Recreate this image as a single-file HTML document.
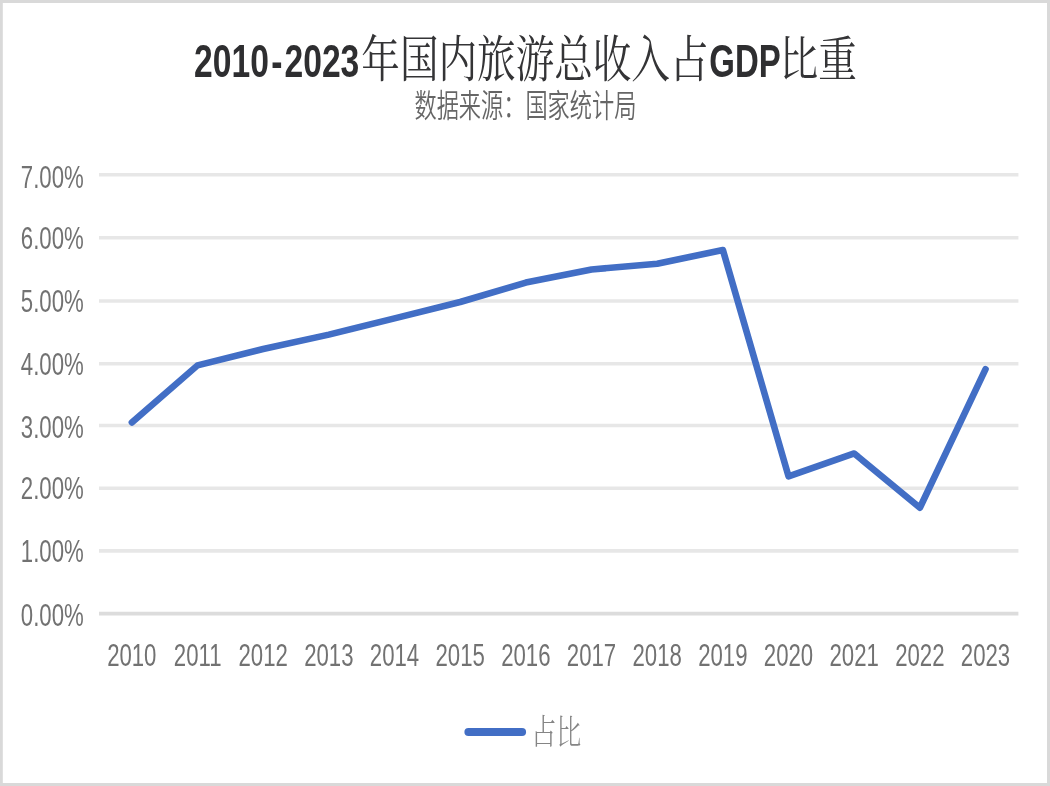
<!DOCTYPE html>
<html lang="zh-CN">
<head>
<meta charset="utf-8">
<title>2010-2023年国内旅游总收入占GDP比重</title>
<style>
html,body{margin:0;padding:0;background:#fff;}
body{width:1050px;height:786px;overflow:hidden;font-family:"Liberation Sans", "Noto Sans CJK SC", sans-serif;}
.chart{position:relative;width:1050px;height:786px;background:#fff;}
svg{position:absolute;left:0;top:0;display:block;}
.soft{filter:blur(0.45px);}
svg{overflow:hidden;}
text{white-space:pre;}
.tb{font-family:"Liberation Sans", "Noto Sans CJK SC", sans-serif;font-weight:bold;font-size:38px;fill:#2e2e30;}
.ts{font-family:"Liberation Serif", "Noto Serif CJK SC", serif;font-weight:normal;font-size:38px;fill:#343436;}
.sb{font-family:"Liberation Sans", "Noto Sans CJK SC", sans-serif;font-weight:350;font-size:22px;fill:#666666;}
.ax{font-family:"Liberation Sans", "Noto Sans CJK SC", sans-serif;font-weight:normal;font-size:22px;fill:#727272;}
.lg{font-family:"Liberation Serif", "Noto Serif CJK SC", serif;font-weight:300;font-size:23px;fill:#858585;}
</style>
</head>
<body>
<div class="chart">
<svg width="1050" height="786" viewBox="0 0 1050 786">
<g class="soft" fill="#d9d9d9"><rect x="-10" y="-10" width="1070" height="13"/><rect x="-10" y="783" width="1070" height="13"/><rect x="-10" y="-10" width="12.8" height="806"/><rect x="1047" y="-10" width="13" height="806"/></g>
<g class="soft">
<g stroke="#e7e7e7" stroke-width="3.6" fill="none"><line x1="99.0" x2="1018.4" y1="550.90" y2="550.90"/><line x1="99.0" x2="1018.4" y1="488.20" y2="488.20"/><line x1="99.0" x2="1018.4" y1="425.50" y2="425.50"/><line x1="99.0" x2="1018.4" y1="363.70" y2="363.70"/><line x1="99.0" x2="1018.4" y1="301.00" y2="301.00"/><line x1="99.0" x2="1018.4" y1="237.80" y2="237.80"/><line x1="99.0" x2="1018.4" y1="174.70" y2="174.70"/></g>
<line x1="99.0" x2="1018.4" y1="613.7" y2="613.7" stroke="#dcdcdc" stroke-width="3.8"/>
<polyline points="131.84,422.43 197.51,365.37 263.18,349.06 328.85,334.64 394.52,318.34 460.19,302.03 525.86,282.59 591.54,269.42 657.21,263.78 722.88,249.98 788.55,476.37 854.22,453.48 919.89,507.72 985.56,369.13" fill="none" stroke="#426ec5" stroke-width="6.6" stroke-linejoin="round" stroke-linecap="round"/>
<line x1="468.5" x2="522" y1="732" y2="732" stroke="#426ec5" stroke-width="8.2" stroke-linecap="round"/>
<g>
<text class="tb" transform="translate(194.12 77.10) scale(0.8848 1.2037)">2010<tspan dx="2.6">-</tspan><tspan dx="2.4">2023</tspan></text><text class="ts" transform="translate(361.37 77.36) scale(1.0151 1.3111)">年国内旅游总收入占</text><text class="tb" transform="translate(709.27 76.80) scale(0.8671 1.1963)">GDP</text><text class="ts" transform="translate(779.51 76.15) scale(1.0188 1.2514)">比重</text>
<text class="sb" transform="translate(414.49 117.14) scale(1.0092 1.4286)">数据来源：国家统计局</text>
<text class="ax" transform="translate(20.79 625.70) scale(1.0100 1.4467)">0.00%</text>
<text class="ax" transform="translate(20.79 562.10) scale(1.0100 1.4467)">1.00%</text>
<text class="ax" transform="translate(20.79 499.40) scale(1.0100 1.4467)">2.00%</text>
<text class="ax" transform="translate(20.79 437.70) scale(1.0100 1.4467)">3.00%</text>
<text class="ax" transform="translate(20.79 375.00) scale(1.0100 1.4467)">4.00%</text>
<text class="ax" transform="translate(20.79 312.10) scale(1.0100 1.4467)">5.00%</text>
<text class="ax" transform="translate(20.79 248.80) scale(1.0100 1.4467)">6.00%</text>
<text class="ax" transform="translate(20.79 187.70) scale(1.0100 1.4467)">7.00%</text>
<text class="ax" transform="translate(107.13 665.80) scale(1.0085 1.4533)">2010</text>
<text class="ax" transform="translate(173.81 665.80) scale(1.0085 1.4533)">2011</text>
<text class="ax" transform="translate(238.47 665.80) scale(1.0085 1.4533)">2012</text>
<text class="ax" transform="translate(304.14 665.80) scale(1.0085 1.4533)">2013</text>
<text class="ax" transform="translate(369.81 665.80) scale(1.0085 1.4533)">2014</text>
<text class="ax" transform="translate(435.48 665.80) scale(1.0085 1.4533)">2015</text>
<text class="ax" transform="translate(501.16 665.80) scale(1.0085 1.4533)">2016</text>
<text class="ax" transform="translate(566.83 665.80) scale(1.0085 1.4533)">2017</text>
<text class="ax" transform="translate(632.50 665.80) scale(1.0085 1.4533)">2018</text>
<text class="ax" transform="translate(698.17 665.80) scale(1.0085 1.4533)">2019</text>
<text class="ax" transform="translate(763.84 665.80) scale(1.0085 1.4533)">2020</text>
<text class="ax" transform="translate(829.51 665.80) scale(1.0085 1.4533)">2021</text>
<text class="ax" transform="translate(895.18 665.80) scale(1.0085 1.4533)">2022</text>
<text class="ax" transform="translate(960.86 665.80) scale(1.0085 1.4533)">2023</text>
<text class="lg" transform="translate(531.25 744.32) scale(1.0878 1.4905)">占比</text>
</g>
</g>
</svg>
</div>
</body>
</html>
